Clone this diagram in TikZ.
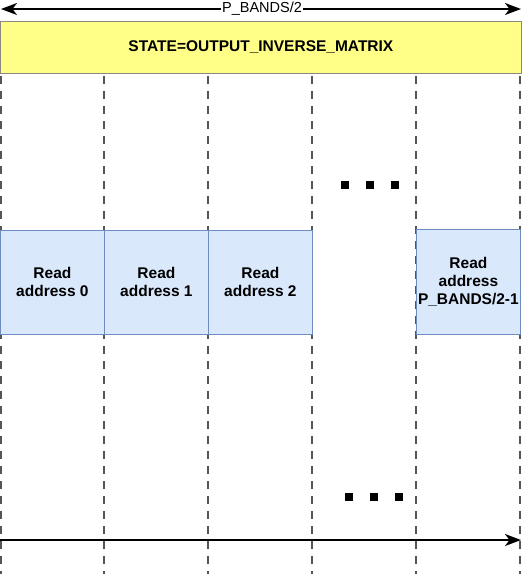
\documentclass[tikz,border=0pt]{standalone}
\usepackage{fontspec}
\setmainfont{Liberation Sans}
\usetikzlibrary{arrows.meta}
\definecolor{bluefill}{HTML}{DAE8FC}
\definecolor{bluedraw}{HTML}{6C8EBF}
\definecolor{yellowfill}{HTML}{FFFF88}
\definecolor{yellowdraw}{HTML}{8A8A80}
\definecolor{guidecol}{HTML}{555555}
\tikzset{headtip/.tip={Stealth[length=16pt,width=12pt,inset=4.5pt]}}
\begin{document}
\begin{tikzpicture}[x=1pt,y=-1pt,
  guide/.style={draw=guidecol,line width=1.6pt,dash pattern=on 8pt off 7pt},
  bluebox/.style={draw=bluedraw,fill=bluefill,line width=0.8pt,minimum width=104pt,minimum height=104pt,inner sep=0pt,align=center,font=\fontsize{15.5}{18}\selectfont\bfseries,anchor=north west},
  statebox/.style={draw=yellowdraw,fill=yellowfill,line width=0.8pt,minimum width=520pt,minimum height=52pt,inner sep=0pt,font=\fontsize{15.5}{18}\selectfont\bfseries,anchor=north west},
  dimarrow/.style={line width=1.8pt,-headtip},
  dot/.style={fill=black,minimum size=8pt,inner sep=0pt,draw=none}]
\useasboundingbox (0,0) rectangle (525,574);
% guides
\foreach \i/\x in {0/1,1/104,2/208,3/312,4/416,5/520}{
  \coordinate (gt\i) at (\x,76);
  \coordinate (gb\i) at (\x,574);
  \draw[guide] (gt\i) -- (gb\i);
}
% state box
\node[statebox] (state) at (0.5,21) {STATE=OUTPUT\_INVERSE\_MATRIX};
% top dimension arrow
\coordinate (tl) at (1,9);
\coordinate (tr) at (521,9);
\draw[dimarrow,headtip-headtip] (tl) -- (tr);
\node[fill=white,inner sep=1.5pt,font=\fontsize{14.5}{16}\selectfont] (pb) at (262,9) {P\_BANDS/2};
% read boxes
\node[bluebox] (r0) at (0,230) {Read\\address 0};
\node[bluebox] (r1) at (104,230) {Read\\address 1};
\node[bluebox] (r2) at (208,230) {Read\\address 2};
\node[bluebox,minimum height=105pt] (rn) at (416,228.5) {Read\\address\\P\_BANDS/2-1};
% dots
\node[dot] (d1) at (345,184.5) {};
\node[dot] (d2) at (370,184.5) {};
\node[dot] (d3) at (395,184.5) {};
\node[dot] (e1) at (349,496.5) {};
\node[dot] (e2) at (374,496.5) {};
\node[dot] (e3) at (399,496.5) {};
% bottom time arrow
\coordinate (bl) at (0,540);
\coordinate (br) at (521,540);
\draw[dimarrow] (bl) -- (br);
\end{tikzpicture}
\end{document}
